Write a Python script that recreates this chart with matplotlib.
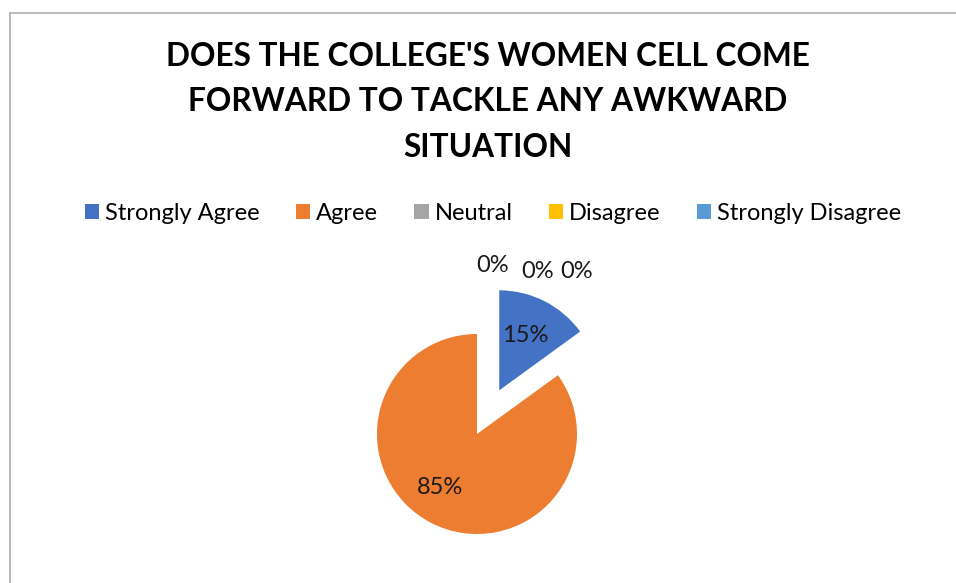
import matplotlib
matplotlib.use("Agg")
import matplotlib.pyplot as plt
from matplotlib.lines import Line2D
from matplotlib.patches import Patch

plt.rcParams['font.family'] = ['Lato', 'DejaVu Sans']

# data
title = "DOES THE COLLEGE'S WOMEN CELL COME\nFORWARD TO TACKLE ANY AWKWARD\nSITUATION"
categories = ["Strongly Agree", "Agree", "Neutral", "Disagree", "Strongly Disagree"]
shares = [15, 85, 0, 0, 0]
colors = ["#4472C4", "#ED7D31", "#A5A5A5", "#FFC000", "#5B9BD5"]

W, H = 956, 583
fig = plt.figure(figsize=(W / 100, H / 100), dpi=100)

# axes in pixel units over the whole figure
ax = fig.add_axes([0, 0, 1, 1])
ax.set_xlim(0, W)
ax.set_ylim(0, H)
ax.axis("off")

# chart frame (cut off at right and bottom)
fig.add_artist(Line2D([9.5 / W, 9.5 / W], [0, 1 - 12.5 / H], color="#b4b4b4", lw=1.3))
fig.add_artist(Line2D([9.5 / W, 1], [1 - 12.5 / H, 1 - 12.5 / H], color="#b4b4b4", lw=1.3))

fig.text(488 / W, 1 - 102 / H, title, ha="center", va="center", fontsize=22.8,
         fontweight="bold", linespacing=1.68, color="black")

wedges, texts, autotexts = ax.pie(
    shares, colors=colors, startangle=90, counterclock=False,
    explode=[49, 0, 0, 0, 0], radius=100, center=(477, H - 434),
    autopct=lambda p: f"{p:.0f}%", pctdistance=0.63,
    textprops=dict(fontsize=17, color="#1a1a1a"),
    wedgeprops=dict(linewidth=0))
ax.set_xlim(0, W)
ax.set_ylim(0, H)

# zero slices get their labels above the pie
zero_pos = [(493, 266), (538, 271), (577, 271)]
zi = 0
for t, v in zip(autotexts, shares):
    if v == 0:
        x, y = zero_pos[zi]
        t.set_position((x, H - y))
        zi += 1
autotexts[0].set_position((525, H - 336))
autotexts[1].set_position((440, H - 487))

handles = [Patch(facecolor=c, edgecolor="none") for c in colors]
fig.legend(handles, categories, loc="center", bbox_to_anchor=(493 / W, 1 - 213 / H),
           ncol=5, frameon=False, fontsize=17, handlelength=0.6, handleheight=0.6,
           handletextpad=0.25, columnspacing=1.55, borderpad=0, borderaxespad=0)

fig.savefig("out.png", dpi=100)
